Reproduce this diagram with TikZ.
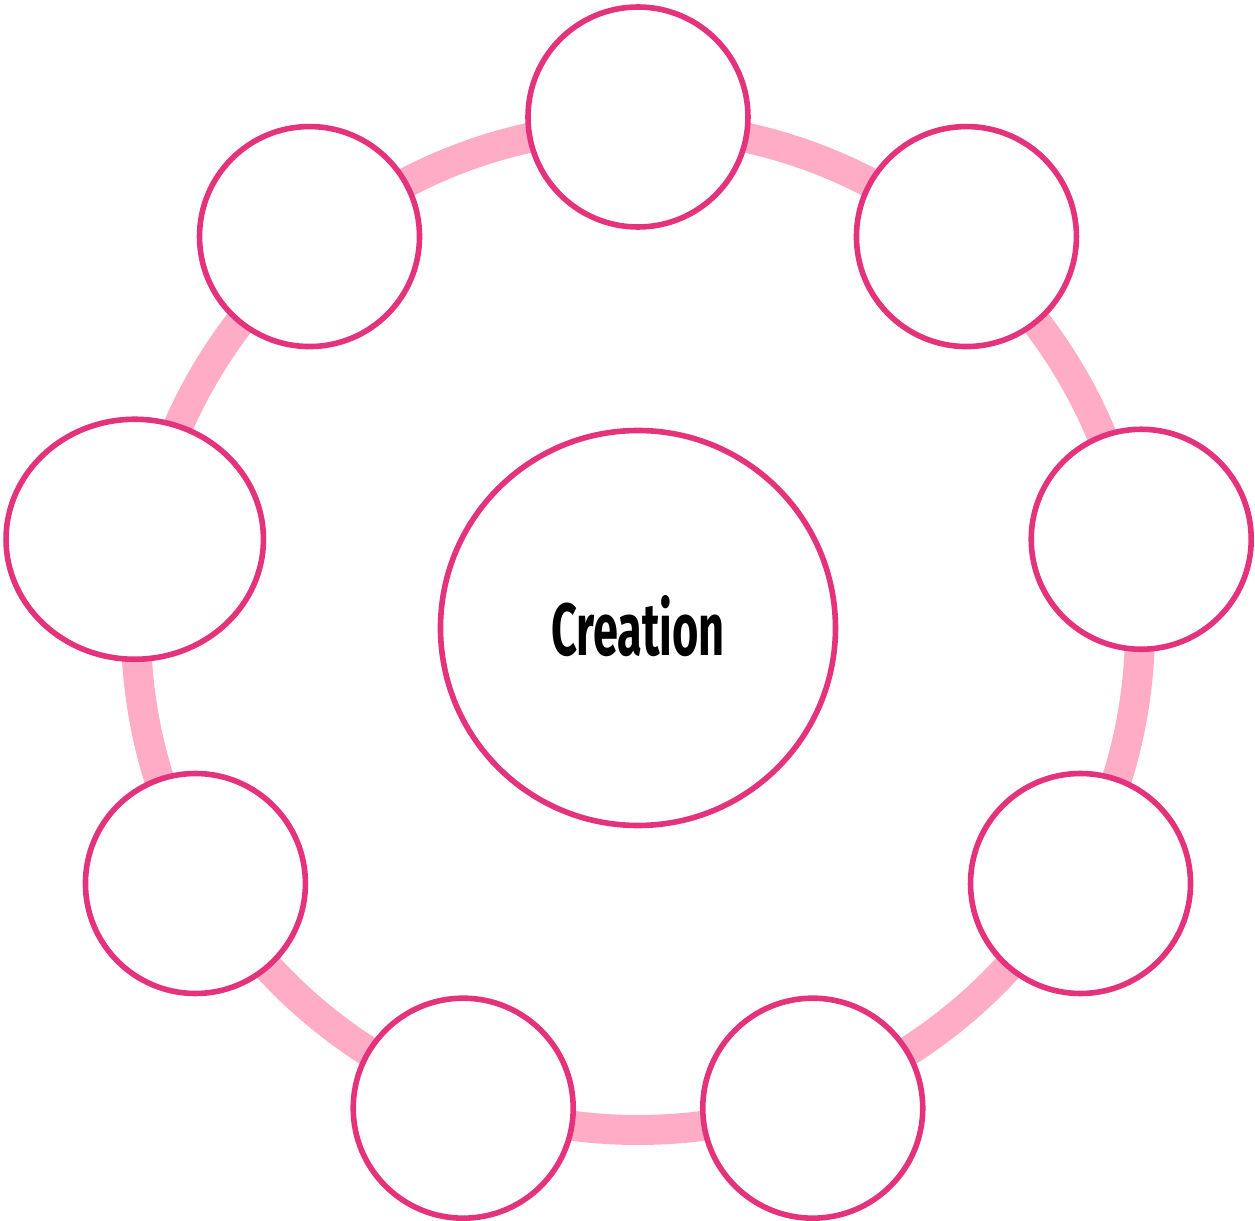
\documentclass[tikz,border=0pt]{standalone}
\usepackage{fontspec}
\usetikzlibrary{shapes.geometric}
\newfontfamily\labelfont{Fira Sans}[FakeStretch=0.61]
\definecolor{ringPink}{HTML}{FFADC7}
\definecolor{edgePink}{HTML}{E5337B}

\begin{document}
\begin{tikzpicture}
[x=0.5pt,y=0.5pt,
  ringDecorate/.style={draw=ringPink,line width=15pt},%
  nodeDecorate/.style={shape=circle,draw=edgePink,line width=2.8pt,fill=white,
    minimum size=110pt,inner sep=0pt},
  hubDecorate/.style={nodeDecorate,minimum size=197.5pt,
    font=\labelfont\bfseries\fontsize{37}{40}\selectfont}]
\useasboundingbox (-638,-593) rectangle (617,628);
%% ring
\coordinate (c) at (0,0);
\draw[ringDecorate] (c) circle (502);
%% outer nodes
\foreach \nodename/\a in {
  n1/90, n2/50, n3/10, n4/-30, n5/-70, n6/-110, n7/-150, n9/130}
{
  \node (\nodename) at (\a:511) [nodeDecorate] {};
}
\node (n8) at (170:511) [nodeDecorate,shape=ellipse,
  minimum width=128.7pt,minimum height=120pt] {};
%% centre
\node (hub) at (c) [hubDecorate] {\raisebox{3pt}{Creation}};
\end{tikzpicture}
\end{document}
